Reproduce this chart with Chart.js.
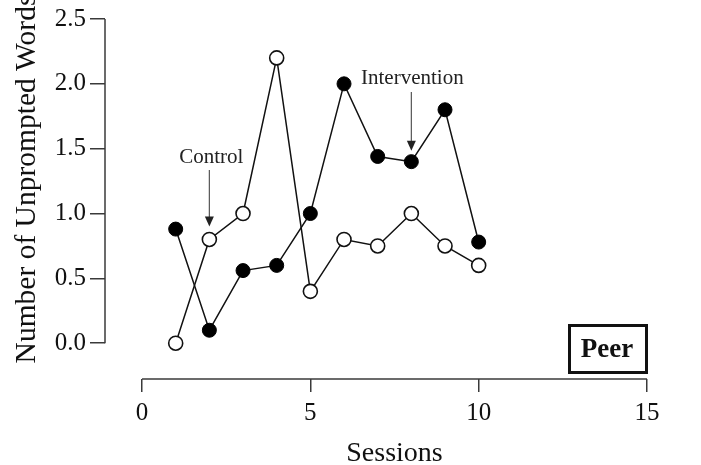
<!DOCTYPE html>
<html>
<head>
<meta charset="utf-8">
<script src="https://cdn.jsdelivr.net/npm/chart.js@4/dist/chart.umd.min.js"></script>
<style>
  html, body { margin: 0; padding: 0; background: #fff; }
  #wrap { width: 701px; height: 465px; }
</style>
</head>
<body>
<div id="wrap"><canvas id="c" width="701" height="465"></canvas></div>
<script>
const sessions = [1, 2, 3, 4, 5, 6, 7, 8, 9, 10];
const controlValues = [0, 0.8, 1.0, 2.2, 0.4, 0.8, 0.75, 1.0, 0.75, 0.6];
const interventionValues = [0.88, 0.1, 0.56, 0.6, 1.0, 2.0, 1.44, 1.4, 1.8, 0.78];
const yTickValues = [0, 0.5, 1.0, 1.5, 2.0, 2.5];
const xTickValues = [0, 5, 10, 15];
const xTitle = 'Sessions';
const yTitle = 'Number of Unprompted Words';
const panelLabel = 'Peer';
const controlLabel = 'Control';
const interventionLabel = 'Intervention';

const SERIF = '"Liberation Serif", "Times New Roman", "DejaVu Serif", serif';
const AXIS = '#3a3a3a';

const toPts = (vals) => sessions.map((s, i) => ({ x: s, y: vals[i] }));

function arrow(ctx, x, y0, y1) {
  ctx.save();
  ctx.strokeStyle = '#555';
  ctx.fillStyle = '#222';
  ctx.lineWidth = 1.2;
  ctx.beginPath();
  ctx.moveTo(x, y0);
  ctx.lineTo(x, y1 - 7);
  ctx.stroke();
  ctx.beginPath();
  ctx.moveTo(x - 4.5, y1 - 10);
  ctx.lineTo(x + 4.5, y1 - 10);
  ctx.lineTo(x, y1);
  ctx.closePath();
  ctx.fill();
  ctx.restore();
}

const decor = {
  id: 'decor',
  afterDraw(chart) {
    const ctx = chart.ctx;
    const xs = chart.scales.x, ys = chart.scales.y;
    ctx.save();
    // y axis line (0 .. 2.5)
    ctx.strokeStyle = AXIS;
    ctx.lineWidth = 1.5;
    const yx = chart.chartArea.left;
    ctx.beginPath();
    ctx.moveTo(yx, ys.getPixelForValue(yTickValues[yTickValues.length - 1]));
    ctx.lineTo(yx, ys.getPixelForValue(yTickValues[0]));
    ctx.stroke();
    // x axis line (0 .. 15)
    const xy = chart.chartArea.bottom;
    ctx.beginPath();
    ctx.moveTo(xs.getPixelForValue(xTickValues[0]), xy);
    ctx.lineTo(xs.getPixelForValue(xTickValues[xTickValues.length - 1]), xy);
    ctx.stroke();

    // axis titles
    ctx.fillStyle = '#111';
    ctx.font = '28px ' + SERIF;
    ctx.textAlign = 'center';
    ctx.textBaseline = 'alphabetic';
    ctx.fillText(xTitle, (xs.getPixelForValue(0) + xs.getPixelForValue(15)) / 2, 461);
    ctx.save();
    ctx.translate(35, 179);
    ctx.rotate(-Math.PI / 2);
    ctx.font = '29.5px ' + SERIF;
    ctx.fillText(yTitle, 0, 0);
    ctx.restore();

    // annotations
    ctx.font = '21px ' + SERIF;
    ctx.fillStyle = '#222';
    const cx = xs.getPixelForValue(2);
    ctx.fillText(controlLabel, cx + 2, 163);
    arrow(ctx, cx, 170, ys.getPixelForValue(controlValues[1]) - 13);
    const ix = xs.getPixelForValue(8);
    ctx.fillText(interventionLabel, ix + 1, 84);
    arrow(ctx, ix, 92, ys.getPixelForValue(interventionValues[7]) - 11);

    // Peer box
    ctx.strokeStyle = '#111';
    ctx.lineWidth = 3;
    ctx.strokeRect(569.5, 325.5, 77, 47);
    ctx.fillStyle = '#111';
    ctx.font = 'bold 27px ' + SERIF;
    ctx.textBaseline = 'middle';
    ctx.fillText(panelLabel, 607, 350);
    ctx.restore();
  }
};

new Chart(document.getElementById('c'), {
  type: 'scatter',
  data: {
    datasets: [
      {
        label: interventionLabel,
        data: toPts(interventionValues),
        showLine: true,
        borderColor: '#111',
        borderWidth: 1.5,
        pointRadius: 7,
        pointBackgroundColor: '#000',
        pointBorderColor: '#000',
        pointBorderWidth: 1,
        clip: false
      },
      {
        label: controlLabel,
        data: toPts(controlValues),
        showLine: true,
        borderColor: '#111',
        borderWidth: 1.5,
        pointRadius: 7,
        pointBackgroundColor: '#fff',
        pointBorderColor: '#111',
        pointBorderWidth: 1.6,
        clip: false
      }
    ]
  },
  options: {
    responsive: false,
    devicePixelRatio: 1,
    animation: false,
    layout: { padding: { top: 17, right: 54, left: 0, bottom: 0 } },
    plugins: { legend: { display: false }, tooltip: { enabled: false } },
    scales: {
      x: {
        type: 'linear',
        min: -1.1,
        max: 15,
        afterBuildTicks: (s) => { s.ticks = xTickValues.map(v => ({ value: v })); },
        afterFit: (s) => { s.height = 86; },
        border: { display: false },
        grid: { drawOnChartArea: false, drawTicks: true, tickLength: 13, color: AXIS, lineWidth: 1.5 },
        ticks: { color: '#111', font: { family: SERIF, size: 25 }, padding: 6, maxRotation: 0, autoSkip: false }
      },
      y: {
        type: 'linear',
        min: -0.276,
        max: 2.5,
        afterBuildTicks: (s) => { s.ticks = yTickValues.map(v => ({ value: v })); },
        afterFit: (s) => { s.width = 105; },
        border: { display: false },
        grid: { drawOnChartArea: false, drawTicks: true, tickLength: 15, color: AXIS, lineWidth: 1.5 },
        ticks: { color: '#111', font: { family: SERIF, size: 25 }, padding: 4, autoSkip: false,
                 callback: (v) => Number(v).toFixed(1) }
      }
    }
  },
  plugins: [decor]
});
</script>
</body>
</html>
